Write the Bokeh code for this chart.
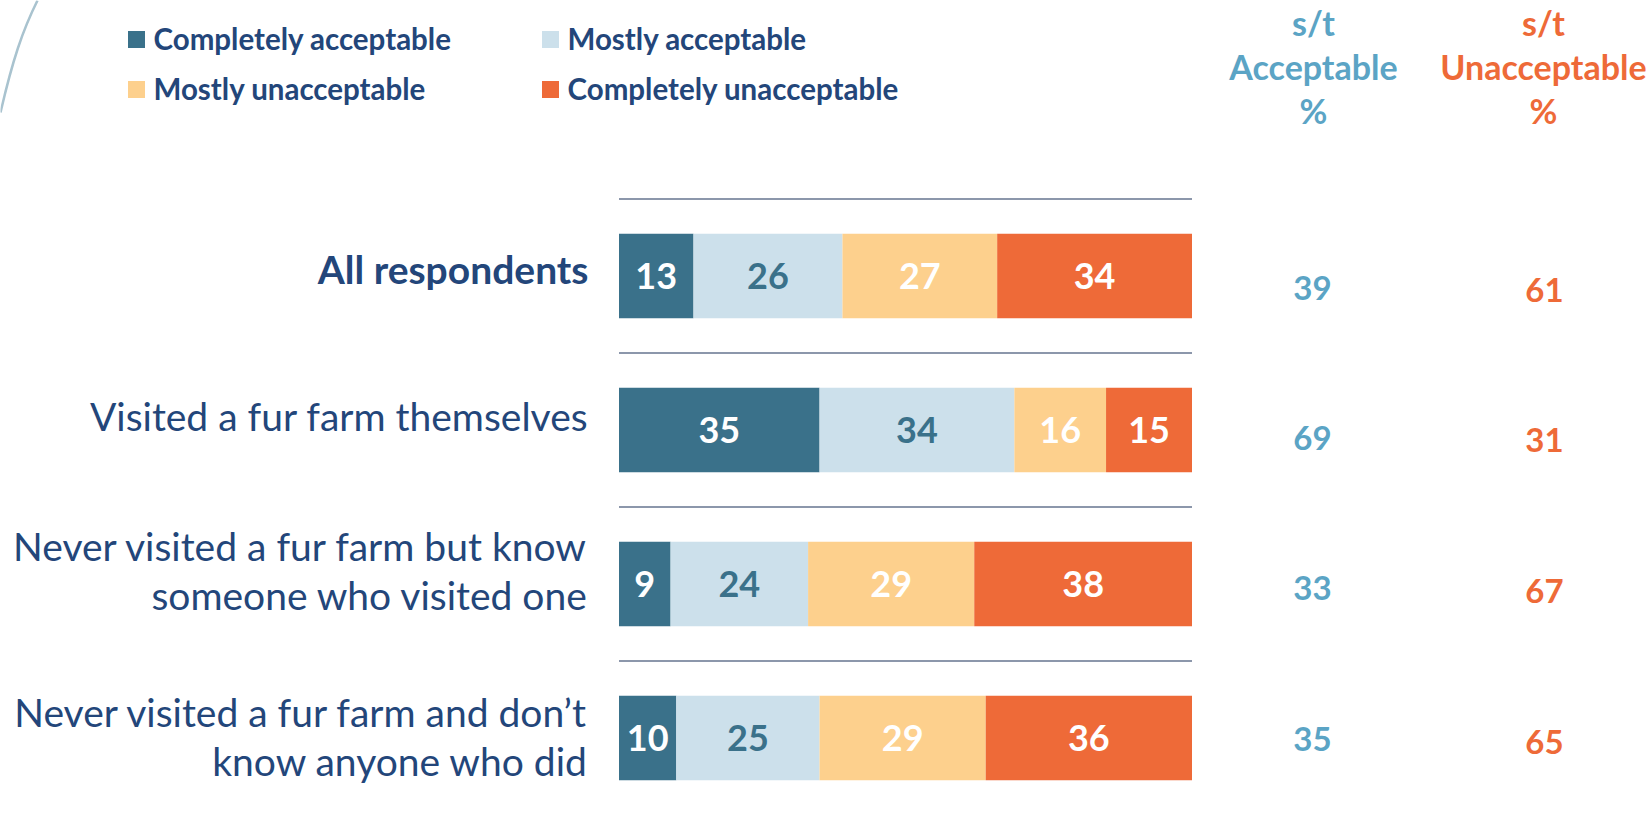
from bokeh.plotting import figure
from bokeh.models import ColumnDataSource, Range1d
from bokeh.core.properties import value
from bokeh.embed import file_html
from bokeh.resources import INLINE

# ---------------- data ----------------
groups = [
    "All respondents",
    "Visited a fur farm themselves",
    "Never visited a fur farm but know\nsomeone who visited one",
    "Never visited a fur farm and don\u2019t\nknow anyone who did",
]
completely_acceptable = [13, 35, 9, 10]
mostly_acceptable = [26, 34, 24, 25]
mostly_unacceptable = [27, 16, 29, 29]
completely_unacceptable = [34, 15, 38, 36]
st_acceptable = [39, 69, 33, 35]
st_unacceptable = [61, 31, 67, 65]
series_names = ["Completely acceptable", "Mostly acceptable",
                "Mostly unacceptable", "Completely unacceptable"]

# ---------------- style ----------------
W, H = 1652, 814
FONT = "Lato"
NAVY = "#23467A"
COLORS = ["#3A718A", "#CCE0EB", "#FDD08D", "#EE6A38"]
LABEL_COLORS = ["#FFFFFF", "#3A718A", "#FFFFFF", "#FFFFFF"]
ACC_COLOR = "#5BA4C5"
UNACC_COLOR = "#EE6A38"
GRID_COLOR = "#8C97AB"

# pixel mapping (layout only)
X0PX, XS = 618.5, 5.73      # px of 0 %, px per %
Y0PX, YS = 275.5, 154.0     # px of first row centre, px per row


def px_x(px):
    return (px - X0PX) / XS


def px_y(py):
    return (py - Y0PX) / YS


p = figure(width=W, height=H, output_backend="svg", toolbar_location=None,
           x_range=Range1d(px_x(0), px_x(W)), y_range=Range1d(px_y(H), px_y(0)),
           min_border=0, outline_line_color=None)
p.axis.visible = False
p.grid.visible = False
p.background_fill_color = "white"
p.border_fill_color = "white"

n = len(groups)
rows = list(range(n))

# separators between rows
sep_y = [i - 0.5 for i in range(n + 1)]
p.segment(x0=[0] * len(sep_y), x1=[100] * len(sep_y), y0=sep_y, y1=sep_y,
          line_color=GRID_COLOR, line_width=2)

# stacked bars
series = [completely_acceptable, mostly_acceptable, mostly_unacceptable, completely_unacceptable]
left = [0] * n
for k, vals in enumerate(series):
    right = [l + v for l, v in zip(left, vals)]
    src = ColumnDataSource(dict(y=rows, left=left, right=right,
                                mid=[(l + r) / 2 for l, r in zip(left, right)],
                                lab=[str(v) for v in vals]))
    p.hbar(y="y", left="left", right="right", height=0.55, source=src,
           fill_color=COLORS[k], line_color=None)
    p.text(x="mid", y="y", text="lab", source=src, text_align="center",
           text_baseline="middle", text_font=value(FONT), text_font_style="bold",
           text_font_size="36px", text_color=LABEL_COLORS[k])
    left = right

# category labels (slight per-row vertical offsets as in the original slide)
label_px = [268, 415, 570, 736]
cat_src = ColumnDataSource(dict(x=[px_x(588)] * n, y=[px_y(v) for v in label_px], t=groups,
                                st=["bold"] + ["normal"] * (n - 1)))
p.text(x="x", y="y", text="t", source=cat_src, text_align="right",
       text_baseline="middle", text_font=value(FONT), text_font_style="st",
       text_font_size="39px", text_color=NAVY, text_line_height=1.06)

# summary columns
acc_px = [287, 437, 587, 738]
unacc_px = [289, 439, 590, 741]
acc_src = ColumnDataSource(dict(x=[px_x(1312)] * n, y=[px_y(v) for v in acc_px],
                                t=[str(v) for v in st_acceptable]))
p.text(x="x", y="y", text="t", source=acc_src, text_align="center", text_baseline="middle",
       text_font=value(FONT), text_font_style="bold", text_font_size="33px", text_color=ACC_COLOR)
un_src = ColumnDataSource(dict(x=[px_x(1544)] * n, y=[px_y(v) for v in unacc_px],
                               t=[str(v) for v in st_unacceptable]))
p.text(x="x", y="y", text="t", source=un_src, text_align="center", text_baseline="middle",
       text_font=value(FONT), text_font_style="bold", text_font_size="33px", text_color=UNACC_COLOR)

# column headers
p.text(x=[px_x(1313)], y=[px_y(66)], text=["s/t\nAcceptable\n%"], text_align="center",
       text_baseline="middle", text_font=value(FONT), text_font_style="bold",
       text_font_size="34px", text_color=ACC_COLOR, text_line_height=1.07)
p.text(x=[px_x(1543)], y=[px_y(66)], text=["s/t\nUnacceptable\n%"], text_align="center",
       text_baseline="middle", text_font=value(FONT), text_font_style="bold",
       text_font_size="34px", text_color=UNACC_COLOR, text_line_height=1.07)

# legend
leg_px = [(136, 39), (550, 39), (136, 89), (550, 89)]
for k, (lx, ly) in enumerate(leg_px):
    p.rect(x=[px_x(lx)], y=[px_y(ly)], width=17 / XS, height=17 / YS,
           fill_color=COLORS[k], line_color=None)
    p.text(x=[px_x(lx + 17)], y=[px_y(ly - 1)], text=[series_names[k]], text_align="left",
           text_baseline="middle", text_font=value(FONT), text_font_style="bold",
           text_font_size="29.5px", text_color=NAVY)

# decorative arc at top-left
p.bezier(x0=[px_x(0)], y0=[px_y(112)], x1=[px_x(37)], y1=[px_y(0)],
         cx0=[px_x(12)], cy0=[px_y(60)], cx1=[px_x(22)], cy1=[px_y(30)],
         line_color="#A9C3CF", line_width=2.5)

open("out.html", "w").write(file_html(p, INLINE))
